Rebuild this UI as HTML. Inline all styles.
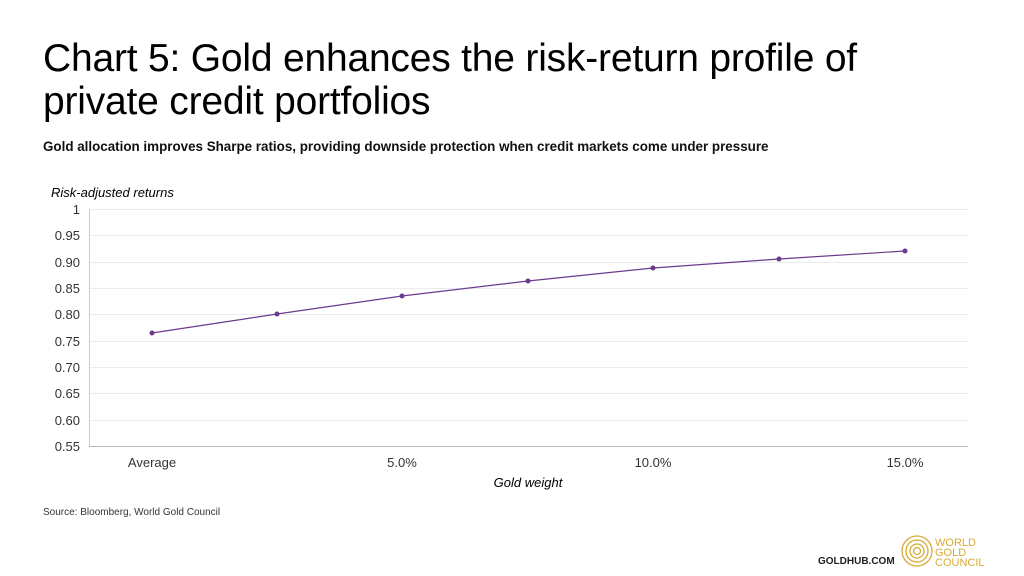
<!DOCTYPE html>
<html><head><style>
body{margin:0;width:1024px;height:576px;background:#fff;font-family:"Liberation Sans",sans-serif;overflow:hidden;position:relative}
.t{position:absolute;left:43px;top:37px;font-size:39px;line-height:43px;color:#000;letter-spacing:-0.2px}
.s{position:absolute;left:43px;top:139px;font-size:13.4px;font-weight:bold;color:#111}
</style></head><body>
<div class="t">Chart 5: Gold enhances the risk-return profile of<br>private credit portfolios</div>
<div class="s">Gold allocation improves Sharpe ratios, providing downside protection when credit markets come under pressure</div>
<svg width="1024" height="576" style="position:absolute;left:0;top:0" font-family="Liberation Sans, sans-serif">
<g stroke="#ececec" stroke-width="1">
<line x1="89" x2="968" y1="209.5" y2="209.5"/><line x1="89" x2="968" y1="235.5" y2="235.5"/><line x1="89" x2="968" y1="262.5" y2="262.5"/><line x1="89" x2="968" y1="288.5" y2="288.5"/><line x1="89" x2="968" y1="314.5" y2="314.5"/><line x1="89" x2="968" y1="341.5" y2="341.5"/><line x1="89" x2="968" y1="367.5" y2="367.5"/><line x1="89" x2="968" y1="393.5" y2="393.5"/><line x1="89" x2="968" y1="420.5" y2="420.5"/>
</g>
<line x1="89.5" x2="89.5" y1="209" y2="446" stroke="#ccc"/>
<line x1="89" x2="968" y1="446.5" y2="446.5" stroke="#bbb"/>
<g font-size="13" fill="#333" text-anchor="end">
<text x="80" y="214">1</text><text x="80" y="240">0.95</text><text x="80" y="267">0.90</text><text x="80" y="293">0.85</text><text x="80" y="319">0.80</text><text x="80" y="346">0.75</text><text x="80" y="372">0.70</text><text x="80" y="398">0.65</text><text x="80" y="425">0.60</text><text x="80" y="451">0.55</text>
</g>
<g font-size="13" fill="#333" text-anchor="middle">
<text x="152" y="467">Average</text><text x="402" y="467">5.0%</text><text x="653" y="467">10.0%</text><text x="905" y="467">15.0%</text>
<text x="528" y="487" font-style="italic" fill="#000">Gold weight</text>
</g>
<text x="51" y="197" font-size="13" font-style="italic" fill="#000">Risk-adjusted returns</text>
<polyline points="152,333 277,314 402,296 528,281 653,268 779,259 905,251" fill="none" stroke="#6b3a8c" stroke-width="1.2"/>
<g fill="#6b3a8c"><circle cx="152" cy="333" r="2.5"/><circle cx="277" cy="314" r="2.5"/><circle cx="402" cy="296" r="2.5"/><circle cx="528" cy="281" r="2.5"/><circle cx="653" cy="268" r="2.5"/><circle cx="779" cy="259" r="2.5"/><circle cx="905" cy="251" r="2.5"/></g>
<text x="43" y="515" font-size="10" fill="#333">Source: Bloomberg, World Gold Council</text>
<text x="818" y="564" font-size="10" font-weight="bold" fill="#222">GOLDHUB.COM</text>
<g fill="none" stroke="#d9a934" stroke-width="1.3"><circle cx="917" cy="551" r="15"/><circle cx="917" cy="551" r="11"/><circle cx="917" cy="551" r="7"/><circle cx="917" cy="551" r="3.5"/></g>
<g font-size="11" fill="#d9a934"><text x="935" y="546">WORLD</text><text x="935" y="556">GOLD</text><text x="935" y="566">COUNCIL</text></g>
</svg>
</body></html>
